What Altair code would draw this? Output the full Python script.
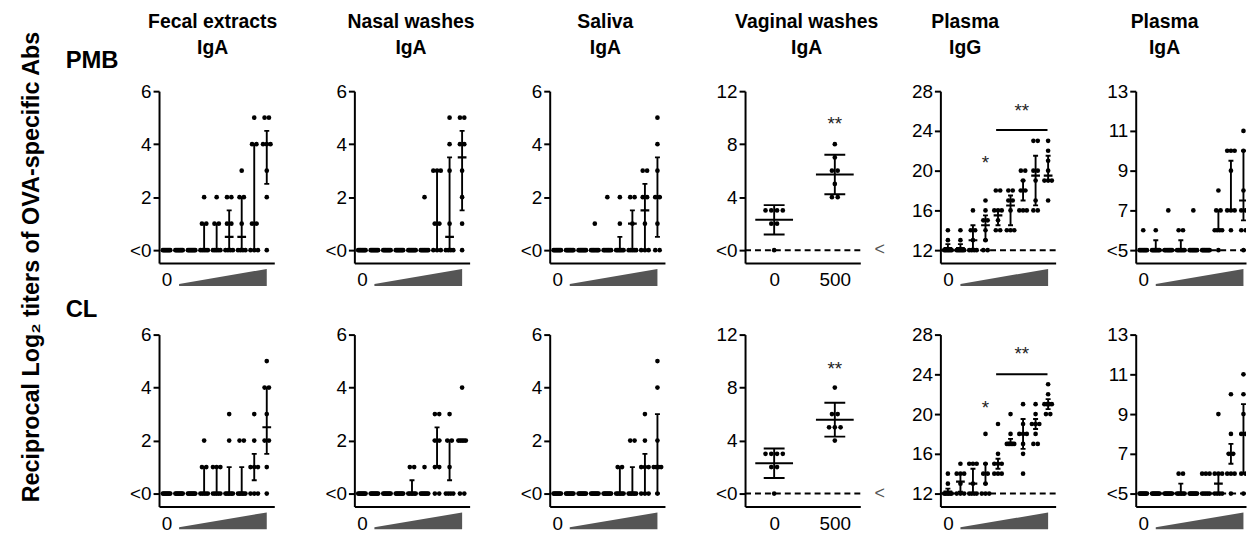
import altair as alt
import pandas as pd

FONT = "Liberation Sans"

# ---------------- data ----------------
# dose panels: group 0 = unimmunised control, groups 1..8 = increasing dose (wedge)
# bars: (centre, low, high) of the error bar, None = no bar drawn
VAG_GROUPS = ["0", "500"]

# ---- PMB row ----
FECAL_PMB = [
    [0, 0, 0, 0, 0, 0, 0, 0], [0, 0, 0, 0, 0, 0, 0, 0], [0, 0, 0, 0, 0, 0, 0, 0],
    [2, 1, 1, 0, 0, 0, 0, 0], [2, 1, 1, 0, 0, 0, 0, 0], [2, 2, 1, 1, 0, 0, 0, 0],
    [3, 2, 2, 1, 0, 0, 0, 0], [5, 4, 4, 1, 1, 0, 0, 0], [5, 5, 4, 4, 4, 3, 2, 0],
]
FECAL_PMB_BAR = [None, None, None, (0, 0, 1), (0, 0, 1), (0.5, 0, 1.5), (0.5, 0, 2), (1, 0, 4), (4, 2.5, 4.5)]

NASAL_PMB = [
    [0, 0, 0, 0, 0, 0, 0, 0], [0, 0, 0, 0, 0, 0, 0, 0], [0, 0, 0, 0, 0, 0, 0, 0],
    [0, 0, 0, 0, 0, 0, 0, 0], [0, 0, 0, 0, 0, 0, 0, 0], [2, 0, 0, 0, 0, 0, 0, 0],
    [3, 3, 3, 1, 1, 0, 0, 0], [5, 4, 3, 1, 0, 0, 0, 0], [5, 5, 4, 4, 3, 2, 1, 0],
]
NASAL_PMB_BAR = [None, None, None, None, None, None, (1, 0, 3), (0.5, 0, 3.5), (3.5, 1.5, 4.5)]

SALIVA_PMB = [
    [0, 0, 0, 0, 0, 0, 0, 0], [0, 0, 0, 0, 0, 0, 0, 0], [0, 0, 0, 0, 0, 0, 0, 0],
    [1, 0, 0, 0, 0, 0, 0, 0], [2, 0, 0, 0, 0, 0, 0, 0], [2, 1, 0, 0, 0, 0, 0, 0],
    [2, 2, 1, 0, 0, 0, 0, 0], [3, 3, 2, 2, 1, 0, 0, 0], [5, 4, 3, 2, 2, 1, 0, 0],
]
SALIVA_PMB_BAR = [None, None, None, None, None, (0, 0, 0.5), (1, 0, 1.5), (1.5, 0, 2.5), (2, 0.5, 3.5)]

VAGINAL_PMB = [[3, 3, 3, 3, 2, 2, 0], [8, 7, 6, 6, 5, 4, 4]]
VAGINAL_PMB_BAR = [(2.29, 1.18, 3.4), (5.71, 4.22, 7.2)]
VAGINAL_PMB_SIG = [(1, 9.5, "**")]

IGG_PMB = [
    [14, 13, 12, 12, 12, 12, 12, 12], [14, 13, 12, 12, 12, 12, 12, 12],
    [16, 14, 14, 13, 12, 12, 12, 12], [17, 16, 15, 15, 14, 13, 12, 12],
    [18, 18, 16, 16, 16, 15, 14, 14], [18, 18, 17, 17, 16, 14, 14, 14],
    [20, 20, 19, 18, 18, 16, 16, 16], [23, 23, 20, 20, 19, 17, 16, 16],
    [23, 22, 21, 20, 19, 19, 19, 17],
]
IGG_PMB_BAR = [(12.2, 12, 12.6), (12.2, 12, 12.6), (13, 12, 14.5), (14.5, 13, 15.5), (15.5, 14.5, 16),
               (16.5, 14.5, 17.5), (18, 17, 19), (19.5, 16.5, 21.5), (19.5, 19, 21.5)]
IGG_PMB_SIG = [(3, 20.8, "*"), (5.9, 26.0, "**")]
IGG_PMB_LINE = (3.85, 7.95, 24.1)

IGA_PMB = [
    [6, 5, 5, 5, 5, 5, 5, 5], [6, 5, 5, 5, 5, 5, 5, 5], [7, 5, 5, 5, 5, 5, 5, 5],
    [6, 6, 5, 5, 5, 5, 5, 5], [7, 5, 5, 5, 5, 5, 5, 5], [5, 5, 5, 5, 5, 5, 5, 5],
    [8, 7, 7, 6, 6, 6, 6, 5], [10, 10, 10, 9, 7, 7, 7, 6], [11, 10, 8, 7, 7, 6, 6, 5],
]
IGA_PMB_BAR = [None, (5, 5, 5.5), None, (5, 5, 5.5), None, None, (6, 6, 7), (7, 7, 9.5), (7.5, 6.5, 10)]

# ---- CL row ----
FECAL_CL = [
    [0, 0, 0, 0, 0, 0, 0, 0], [0, 0, 0, 0, 0, 0, 0, 0], [0, 0, 0, 0, 0, 0, 0, 0],
    [2, 1, 1, 0, 0, 0, 0, 0], [1, 1, 1, 0, 0, 0, 0, 0], [3, 2, 0, 0, 0, 0, 0, 0],
    [2, 2, 0, 0, 0, 0, 0, 0], [3, 2, 1, 1, 1, 0, 0, 0], [5, 4, 4, 3, 2, 2, 1, 0],
]
FECAL_CL_BAR = [None, None, None, (0, 0, 1), (0, 0, 1), (0, 0, 1), (0, 0, 1), (1, 0.5, 1.5), (2.5, 1.5, 4)]

NASAL_CL = [
    [0, 0, 0, 0, 0, 0, 0, 0], [0, 0, 0, 0, 0, 0, 0, 0], [0, 0, 0, 0, 0, 0, 0, 0],
    [0, 0, 0, 0, 0, 0, 0, 0], [1, 1, 0, 0, 0, 0, 0, 0], [1, 0, 0, 0, 0, 0, 0, 0],
    [3, 3, 2, 2, 1, 1, 0, 0], [3, 2, 2, 1, 0, 0, 0, 0], [4, 2, 2, 2, 2, 2, 0, 0],
]
NASAL_CL_BAR = [None, None, None, None, (0, 0, 0.5), None, (2, 1, 2.5), (2, 0.5, 2), (2, 2, 2)]

SALIVA_CL = [
    [0, 0, 0, 0, 0, 0, 0, 0], [0, 0, 0, 0, 0, 0, 0, 0], [0, 0, 0, 0, 0, 0, 0, 0],
    [0, 0, 0, 0, 0, 0, 0, 0], [0, 0, 0, 0, 0, 0, 0, 0], [1, 1, 0, 0, 0, 0, 0, 0],
    [2, 2, 0, 0, 0, 0, 0, 0], [3, 2, 1, 1, 1, 0, 0, 0], [5, 4, 2, 1, 1, 1, 1, 0],
]
SALIVA_CL_BAR = [None, None, None, None, None, (0, 0, 1), (0, 0, 1), (1, 0, 1.5), (1, 0, 3)]

VAGINAL_CL = [[3, 3, 3, 3, 2, 2, 0], [8, 6, 6, 5, 5, 5, 4]]
VAGINAL_CL_BAR = [(2.29, 1.18, 3.4), (5.57, 4.3, 6.85)]
VAGINAL_CL_SIG = [(1, 9.4, "**")]

IGG_CL = [
    [14, 13, 12, 12, 12, 12, 12, 12], [15, 14, 14, 14, 13, 12, 12, 12],
    [15, 15, 15, 13, 12, 12, 12, 12], [18, 15, 14, 14, 13, 12, 12, 12],
    [19, 16, 15, 15, 15, 14, 14, 14], [20, 18, 17, 17, 17, 17, 17, 17],
    [21, 19, 18, 18, 18, 17, 16, 14], [21, 20, 19, 19, 19, 18, 17, 17],
    [23, 22, 21, 21, 21, 21, 20, 20],
]
IGG_CL_BAR = [(12.2, 12, 12.5), (13.2, 12.2, 14), (13, 12, 14.5), (14, 13, 15), (15, 14.5, 15.5),
              (17, 17, 17.5), (18, 16.5, 19.5), (19, 18.5, 19.5), (21, 20.5, 21.5)]
IGG_CL_SIG = [(3, 20.6, "*"), (5.9, 26.0, "**")]
IGG_CL_LINE = (3.85, 7.95, 24.0)

IGA_CL = [
    [5, 5, 5, 5, 5, 5, 5, 5], [5, 5, 5, 5, 5, 5, 5, 5], [5, 5, 5, 5, 5, 5, 5, 5],
    [6, 6, 5, 5, 5, 5, 5, 5], [5, 5, 5, 5, 5, 5, 5, 5], [6, 6, 6, 5, 5, 5, 5, 5],
    [9, 6, 6, 6, 5, 5, 5, 5], [10, 8, 7, 7, 6, 6, 6, 5], [11, 10, 9, 8, 8, 6, 6, 5],
]
IGA_CL_BAR = [None, None, None, (5, 5, 5.5), None, None, (5.5, 5, 6), (7, 6.5, 7.5), (8, 6, 9.5)]

# axis ticks / labels
MUC_TICKS, MUC_LABELS = [0, 2, 4, 6], ["<0", "2", "4", "6"]
VAG_TICKS, VAG_LABELS = [0, 4, 8, 12], ["<0", "4", "8", "12"]
IGG_TICKS, IGG_LABELS = [12, 16, 20, 24, 28], ["12", "16", "20", "24", "28"]
IGA_TICKS, IGA_LABELS = [5, 7, 9, 11, 13], ["<5", "7", "9", "11", "13"]

COL_TITLES = [("Fecal extracts", "IgA"), ("Nasal washes", "IgA"), ("Saliva", "IgA"),
              ("Vaginal washes", "IgA"), ("Plasma", "IgG"), ("Plasma", "IgA")]
ROW_LABELS = ["PMB", "CL"]
Y_TITLE = "Reciprocal Log\u2082 titers of OVA-specific Abs"

# ---------------- layout ----------------
H = 173
W = 116
LAST_W = 111
TITLE_X = [54, 57, 56, 62, 25, 29]
ONE = pd.DataFrame({"k": [0]})


def label_expr(vals, labels):
    parts = [f"datum.value == {v} ? '{l}'" for v, l in zip(vals, labels)]
    return " : ".join(parts) + " : ''"


def txt(text, x, y, size, bold=True, align="center", angle=0, color="black"):
    kw = dict(text=text, fontSize=size, font=FONT, align=align, baseline="middle", color=color)
    if bold:
        kw["fontWeight"] = "bold"
    if angle:
        kw["angle"] = angle
    return alt.Chart(ONE).mark_text(**kw).encode(x=alt.value(x), y=alt.value(y))


def panel(pts, bars, ticks, labels, kind, width=W, dashed=False, sig=None, sigline=None,
          col=None, row_label=None, y_title=False, lt_sign=False):
    base, top = ticks[0], ticks[-1]
    ymin = base - (H - 160) / 160 * (top - base)
    if kind == "dose":
        ppu = W / 9.2
        x0 = -0.6
        x1 = x0 + width / ppu
        xvals, xlabels = [0], ["0"]
        gap_px, span_px, cap_px, mean_px = 4.4, 7.5, 2.5, 4.4
    else:
        x0, x1 = -0.48, 1.42
        ppu = width / (x1 - x0)
        xvals, xlabels = [0, 1], VAG_GROUPS
        gap_px, span_px, cap_px, mean_px = 5.8, 18.0, 10.5, 19.0

    rows = []
    for g, vals in enumerate(pts):
        counts = {}
        for v in vals:
            counts[v] = counts.get(v, 0) + 1
        for v, k in counts.items():
            d = gap_px if k == 1 else min(gap_px, span_px / (k - 1))
            for i in range(k):
                rows.append({"x": g + (i - (k - 1) / 2) * d / ppu, "y": v})
    pdf = pd.DataFrame(rows)

    brows, crow = [], []
    for g, b in enumerate(bars):
        if b is None:
            continue
        c, lo, hi = b
        brows.append({"g": g, "lo": lo, "hi": hi, "c": c,
                      "ma": g - mean_px / ppu, "mb": g + mean_px / ppu})
        for v in (lo, hi):
            crow.append({"a": g - cap_px / ppu, "b": g + cap_px / ppu, "v": v})
    bdf = pd.DataFrame(brows)
    cdf = pd.DataFrame(crow)

    xscale = alt.Scale(domain=[x0, x1], nice=False, zero=False)
    yscale = alt.Scale(domain=[ymin, top], nice=False, zero=False)
    xaxis = alt.Axis(values=xvals, labelExpr=label_expr(xvals, xlabels), title=None, grid=False,
                     ticks=False, domainColor="black", domainWidth=2, labelFontSize=19,
                     labelColor="black", labelFont=FONT, labelPadding=8, labelFlush=False)
    yaxis = alt.Axis(values=ticks, labelExpr=label_expr(ticks, labels), title=None, grid=False,
                     domainColor="black", domainWidth=2, tickColor="black", tickWidth=2,
                     tickSize=6, labelFontSize=19, labelColor="black", labelFont=FONT,
                     labelPadding=2, labelFlush=False, labelOverlap=False)

    def X(f):
        return alt.X(f, type="quantitative", scale=xscale, axis=xaxis)

    def Y(f):
        return alt.Y(f, type="quantitative", scale=yscale, axis=yaxis)

    layers = []
    if dashed:
        layers.append(alt.Chart(ONE).mark_rule(color="black", strokeWidth=2, strokeDash=[6, 4])
                      .encode(y=alt.datum(base)))
    layers.append(alt.Chart(pdf).mark_circle(size=22, color="black", opacity=1, clip=True)
                  .encode(x=X("x"), y=Y("y")))
    layers.append(alt.Chart(bdf).mark_rule(color="black", strokeWidth=1.9, clip=True)
                  .encode(x=X("g"), y=Y("lo"), y2="hi"))
    layers.append(alt.Chart(cdf).mark_rule(color="black", strokeWidth=1.9, clip=True)
                  .encode(x=X("a"), x2="b", y=Y("v")))
    layers.append(alt.Chart(bdf).mark_rule(color="black", strokeWidth=2.1, clip=True)
                  .encode(x=X("ma"), x2="mb", y=Y("c")))
    if sig:
        sdf = pd.DataFrame([{"x": a, "y": b, "t": t} for a, b, t in sig])
        layers.append(alt.Chart(sdf).mark_text(fontSize=19, font=FONT, color="#222", baseline="middle")
                      .encode(x=X("x"), y=Y("y"), text="t:N"))
    if sigline:
        ldf = pd.DataFrame([{"a": sigline[0], "b": sigline[1], "y": sigline[2]}])
        layers.append(alt.Chart(ldf).mark_rule(color="black", strokeWidth=2)
                      .encode(x=X("a"), x2="b", y=Y("y")))
    if lt_sign:
        layers.append(alt.Chart(ONE).mark_text(text="<", fontSize=18, font=FONT, color="#555",
                                               baseline="middle")
                      .encode(x=alt.value(-61), y=alt.datum(base)))
    if col:
        layers.append(txt(col[0], col[2], -70, 19.5))
        layers.append(txt(col[1], col[2], -43, 19.5))
    if row_label:
        layers.append(txt(row_label[0], -94, row_label[1], 24, align="left"))
    if y_title:
        layers.append(txt(Y_TITLE, -128, 177, 23.5, angle=270))

    inner = alt.layer(*layers)

    if kind == "dose":
        tri = pd.DataFrame({"x": [1, 8], "t": [0.12, 1.0]})
        wedge = alt.Chart(tri).mark_area(color="#555555").encode(
            x=X("x"),
            y=alt.Y("t:Q", scale=alt.Scale(domain=[0, 1], range=[196, 179]), axis=None),
            y2=alt.value(196),
        )
        out = alt.layer(inner, wedge).resolve_scale(y="independent")
    else:
        out = inner
    return out.properties(width=width, height=H)


def row(data, first_row):
    (fecal, fecal_b, nasal, nasal_b, sal, sal_b, vag, vag_b, vag_s,
     igg, igg_b, igg_s, igg_l, iga, iga_b, rlabel) = data
    cols = [(t[0], t[1], TITLE_X[i]) for i, t in enumerate(COL_TITLES)] if first_row else [None] * 6
    return [
        panel(fecal, fecal_b, MUC_TICKS, MUC_LABELS, "dose", col=cols[0],
              row_label=(rlabel, -30 if first_row else -25), y_title=first_row),
        panel(nasal, nasal_b, MUC_TICKS, MUC_LABELS, "dose", col=cols[1]),
        panel(sal, sal_b, MUC_TICKS, MUC_LABELS, "dose", col=cols[2]),
        panel(vag, vag_b, VAG_TICKS, VAG_LABELS, "vag", dashed=True, sig=vag_s, col=cols[3]),
        panel(igg, igg_b, IGG_TICKS, IGG_LABELS, "dose", dashed=True, sig=igg_s, sigline=igg_l,
              col=cols[4], lt_sign=True),
        panel(iga, iga_b, IGA_TICKS, IGA_LABELS, "dose", width=LAST_W, dashed=True, col=cols[5]),
    ]


row1 = row((FECAL_PMB, FECAL_PMB_BAR, NASAL_PMB, NASAL_PMB_BAR, SALIVA_PMB, SALIVA_PMB_BAR,
            VAGINAL_PMB, VAGINAL_PMB_BAR, VAGINAL_PMB_SIG, IGG_PMB, IGG_PMB_BAR, IGG_PMB_SIG,
            IGG_PMB_LINE, IGA_PMB, IGA_PMB_BAR, ROW_LABELS[0]), True)
row2 = row((FECAL_CL, FECAL_CL_BAR, NASAL_CL, NASAL_CL_BAR, SALIVA_CL, SALIVA_CL_BAR,
            VAGINAL_CL, VAGINAL_CL_BAR, VAGINAL_CL_SIG, IGG_CL, IGG_CL_BAR, IGG_CL_SIG,
            IGG_CL_LINE, IGA_CL, IGA_CL_BAR, ROW_LABELS[1]), False)

chart = (
    alt.concat(*(row1 + row2), columns=6, spacing={"row": 72, "column": 80.6}, bounds="flush")
    .properties(padding={"left": 11, "top": 2, "right": 0, "bottom": 0}, background="white")
    .configure_view(stroke=None)
)

chart.save("out.html", embed_options={"renderer": "svg", "actions": False})
